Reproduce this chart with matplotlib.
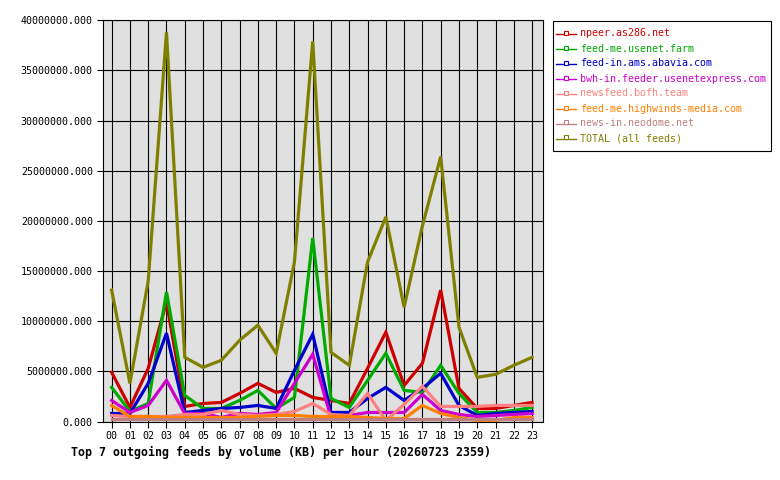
import matplotlib
matplotlib.use("Agg")
import matplotlib.pyplot as plt
from matplotlib.lines import Line2D
from matplotlib.patches import Rectangle

hours = ["%02d" % h for h in range(24)]

npeer = [4.9, 1.4, 5.3, 11.9, 1.5, 1.8, 1.9, 2.8, 3.8, 2.9, 3.3, 2.4,
         2.1, 1.8, 5.3, 8.9, 3.6, 5.8, 13.1, 3.3, 1.3, 1.3, 1.6, 1.9]
usenet_farm = [3.4, 1.0, 1.8, 12.9, 2.6, 1.3, 1.3, 2.1, 3.1, 1.3, 2.4, 18.3,
               2.3, 1.4, 4.1, 6.8, 3.1, 2.9, 5.6, 2.8, 0.9, 0.9, 1.1, 1.4]
abavia = [0.8, 0.8, 3.8, 8.8, 0.9, 1.1, 1.3, 1.4, 1.6, 1.3, 5.1, 8.7,
          0.9, 0.9, 2.3, 3.4, 2.1, 3.3, 4.8, 1.6, 0.6, 0.8, 0.9, 1.0]
usenetexpress = [2.1, 0.9, 1.6, 4.1, 0.8, 0.8, 0.4, 0.8, 0.7, 0.9, 3.8, 6.7,
                 0.4, 0.6, 0.9, 0.9, 0.9, 2.7, 1.1, 0.7, 0.5, 0.6, 0.7, 0.8]
bofh = [0.6, 0.5, 0.5, 0.5, 0.7, 0.7, 1.1, 0.7, 0.6, 0.7, 1.0, 1.8,
        0.7, 0.6, 2.8, 0.1, 1.7, 3.5, 1.5, 1.5, 1.5, 1.6, 1.6, 1.6]
highwinds = [1.6, 0.5, 0.5, 0.4, 0.4, 0.4, 0.4, 0.4, 0.5, 0.6, 0.6, 0.5,
             0.5, 0.5, 0.4, 0.3, 0.3, 1.6, 0.8, 0.4, 0.1, 0.1, 0.4, 0.4]
neodome = [0.2] * 24
total = [13.1, 3.8, 14.0, 38.8, 6.4, 5.4, 6.1, 8.1, 9.6, 6.8, 15.9, 37.9,
         6.9, 5.6, 15.9, 20.4, 11.4, 19.5, 26.4, 9.4, 4.4, 4.7, 5.6, 6.4]

names = ["npeer.as286.net", "feed-me.usenet.farm", "feed-in.ams.abavia.com",
         "bwh-in.feeder.usenetexpress.com", "newsfeed.bofh.team",
         "feed-me.highwinds-media.com", "news-in.neodome.net", "TOTAL (all feeds)"]
series = [npeer, usenet_farm, abavia, usenetexpress, bofh, highwinds, neodome, total]
colors = ["#cc0000", "#00aa00", "#0000cc", "#cc00cc", "#ff8080",
          "#ff8000", "#c08080", "#808000"]
yticks = [0, 5, 10, 15, 20, 25, 30, 35, 40]

W, H = 780, 480
fig = plt.figure(figsize=(7.8, 4.8), dpi=100)
fig.patch.set_facecolor("white")

def fx(px):
    return px / W

def fy(py):
    return 1 - py / H

ax = fig.add_axes([fx(102.5), fy(421.5), (542.5 - 102.5) / W, (421.5 - 20.3) / H])
ax.set_facecolor("#e0e0e0")
x = list(range(24))
for vals, c in zip(series, colors):
    ax.plot(x, [v * 1e6 for v in vals], color=c, lw=2.3, solid_joinstyle="miter",
            zorder=3)
ax.set_xlim(-0.5, 23.57)
ax.set_ylim(0, 40e6)
ax.set_xticks(x)
ax.set_xticklabels(hours)
ax.set_yticks([v * 1e6 for v in yticks])
ax.set_yticklabels(["%d.000" % (v * 1000000) for v in yticks])
mono = "DejaVu Sans Mono"
for lab in ax.get_xticklabels() + ax.get_yticklabels():
    lab.set_fontfamily(mono)
    lab.set_fontsize(7.2)
    lab.set_color("black")
ax.tick_params(axis="both", direction="out", length=4, width=0.8, color="black", pad=3)
ax.grid(True, color="black", lw=0.8, zorder=1)
ax.set_axisbelow(True)
for s in ax.spines.values():
    s.set_color("black")
    s.set_linewidth(0.8)

fig.text(fx(71), fy(452), "Top 7 outgoing feeds by volume (KB) per hour (20260723 2359)",
         fontfamily=mono, fontweight="bold", fontsize=8.4, ha="left", va="center")

# Legend
fig.add_artist(Rectangle((fx(553), fy(150.5)), (771 - 553) / W, (150.5 - 20.5) / H,
                         transform=fig.transFigure, facecolor="white",
                         edgecolor="black", lw=0.8))
for i, (n, c) in enumerate(zip(names, colors)):
    yy = 33.5 + i * 15
    fig.add_artist(Line2D([fx(556), fx(576)], [fy(yy), fy(yy)], color=c, lw=1.0,
                          transform=fig.transFigure))
    fig.add_artist(Line2D([fx(566)], [fy(yy - 1)], color=c, marker="s", markersize=2.5,
                          markerfacecolor="white", markeredgewidth=0.8,
                          transform=fig.transFigure))
    fig.text(fx(580), fy(yy), n, color=c, fontfamily=mono, fontsize=7.2,
             ha="left", va="center")

fig.savefig("out.png", dpi=100)
